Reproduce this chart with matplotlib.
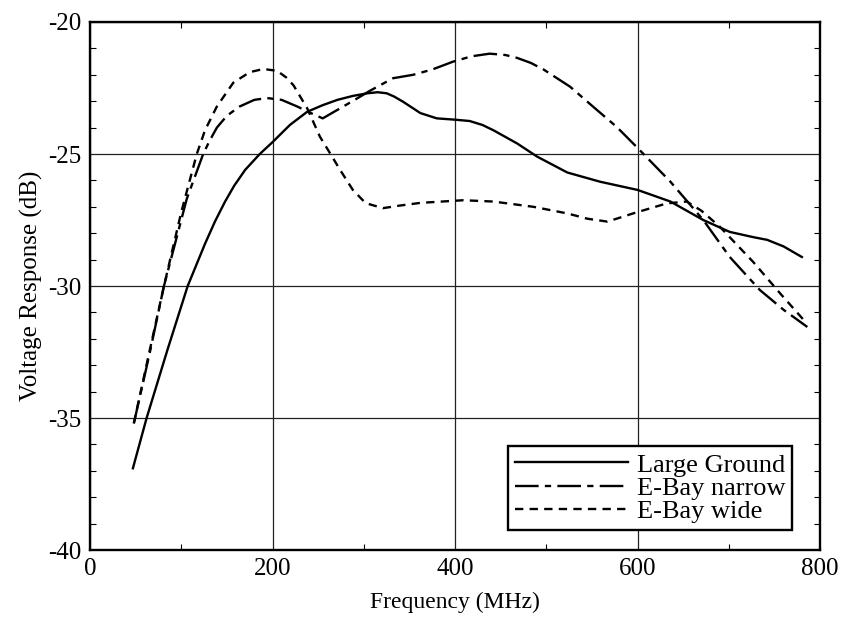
import matplotlib
matplotlib.use("Agg")
import matplotlib.pyplot as plt
from matplotlib.ticker import MultipleLocator

# frequency (MHz) / voltage response (dB)
large_f = [47, 62, 85, 107, 126, 137, 148, 158, 170, 186, 200, 219, 238, 255,
           271, 288, 304, 315, 325, 333, 343, 362, 380, 400, 416, 430, 442, 468,
           490, 523, 559, 600, 636, 672, 701, 727, 742, 760, 780]
large_db = [-36.9, -35.0, -32.4, -30.0, -28.4, -27.55, -26.8, -26.2, -25.6,
            -25.0, -24.55, -23.9, -23.4, -23.15, -22.95, -22.8, -22.7, -22.66,
            -22.7, -22.82, -23.02, -23.45, -23.65, -23.7, -23.75, -23.9, -24.1,
            -24.6, -25.1, -25.7, -26.05, -26.36, -26.8, -27.5, -27.95, -28.15,
            -28.25, -28.5, -28.9]

narrow_f = [48, 65, 81, 106, 124, 131, 139, 150, 164, 180, 194, 210, 227, 242,
            255, 271, 290, 307, 332, 354, 375, 398, 418, 438, 455, 468, 483,
            497, 526, 551, 577, 600, 636, 672, 701, 734, 760, 786]
narrow_db = [-35.2, -32.6, -30.0, -26.7, -25.0, -24.5, -24.0, -23.55, -23.2,
             -22.95, -22.88, -22.95, -23.2, -23.45, -23.65, -23.33, -22.95,
             -22.6, -22.13, -22.0, -21.8, -21.5, -21.3, -21.2, -21.25, -21.36,
             -21.55, -21.8, -22.45, -23.2, -23.97, -24.77, -26.05, -27.5,
             -28.9, -30.15, -30.9, -31.55]

wide_f = [48, 65, 81, 100, 117, 126, 139, 157, 175, 190, 205, 215, 223, 238,
          252, 263, 274, 288, 302, 321, 340, 362, 409, 442, 486, 523, 545, 567,
          595, 632, 654, 670, 690, 727, 756, 785]
wide_db = [-35.2, -32.5, -30.0, -27.2, -25.0, -24.1, -23.2, -22.3, -21.9,
           -21.78, -21.85, -22.1, -22.4, -23.27, -24.35, -24.97, -25.6, -26.36,
           -26.86, -27.05, -26.95, -26.85, -26.75, -26.8, -27.0, -27.25, -27.45,
           -27.56, -27.25, -26.87, -26.8, -27.15, -27.75, -29.1, -30.27, -31.4]

labels = ["Large Ground", "E-Bay narrow", "E-Bay wide"]

plt.rcParams["font.family"] = ["Liberation Serif", "DejaVu Serif"]
plt.rcParams["lines.scale_dashes"] = False
plt.rcParams["axes.unicode_minus"] = False

fig = plt.figure(figsize=(8.46, 6.28), dpi=100)
ax = fig.add_axes([0.1064, 0.124, 0.863, 0.841])

ax.plot(large_f, large_db, color="black", lw=1.7, label=labels[0])
ax.plot(narrow_f, narrow_db, color="black", lw=1.7, label=labels[1],
        dashes=(17, 4.5, 4.5, 4.5))
ax.plot(wide_f, wide_db, color="black", lw=1.7, label=labels[2],
        dashes=(6, 4.5))

ax.set_xlim(0, 800)
ax.set_ylim(-40, -20)
ax.xaxis.set_major_locator(MultipleLocator(200))
ax.yaxis.set_major_locator(MultipleLocator(5))
ax.xaxis.set_minor_locator(MultipleLocator(100))
ax.yaxis.set_minor_locator(MultipleLocator(1))
ax.grid(True, which="major", color="#222222", lw=0.9)
ax.tick_params(which="major", length=0, labelsize=18, pad=6)
ax.tick_params(which="minor", direction="in", length=4, width=0.8,
               top=True, right=True)
for s in ax.spines.values():
    s.set_linewidth(1.7)

ax.set_xlabel("Frequency (MHz)", fontsize=17, labelpad=8)
ax.set_ylabel("Voltage Response (dB)", fontsize=18, labelpad=4)

leg = ax.legend(loc="lower right", bbox_to_anchor=(0.962, 0.038), fontsize=19,
                frameon=True, fancybox=False, handlelength=4.3,
                labelspacing=0.0, borderpad=0.25, handletextpad=0.35,
                borderaxespad=0)
leg.get_frame().set_edgecolor("black")
leg.get_frame().set_linewidth(1.7)
leg.get_frame().set_alpha(1)

fig.savefig("out.png", dpi=100)
